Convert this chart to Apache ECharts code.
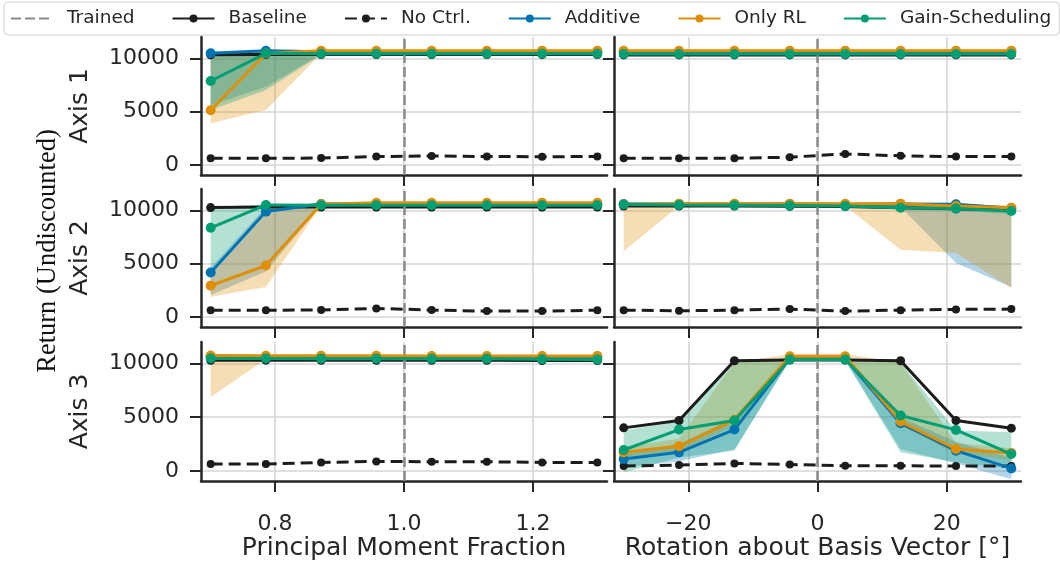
<!DOCTYPE html>
<html>
<head>
<meta charset="utf-8">
<script src="https://cdn.jsdelivr.net/npm/echarts@6/dist/echarts.min.js"></script>
<style>
html, body { margin: 0; padding: 0; background: #ffffff; }
#chart { width: 1060px; height: 567px; }
</style>
</head>
<body>
<div id="chart"></div>
<script>
// x positions of the evaluated variations
const xMoment = [0.7, 0.7857, 0.8714, 0.9571, 1.0429, 1.1286, 1.2143, 1.3];
const xRotation = [-30, -21.43, -12.86, -4.29, 4.29, 12.86, 21.43, 30];

// tick labels
const xTicksMoment = [0.8, 1.0, 1.2];
const xTicksRotation = [-20, 0, 20];
const yTicks = [0, 5000, 10000];
const rowLabels = ['Axis 1', 'Axis 2', 'Axis 3'];
const seriesNames = ['Trained', 'Baseline', 'No Ctrl.', 'Additive', 'Only RL', 'Gain-Scheduling'];

// ---- Axis 1, principal moment fraction ----
const mom1Baseline = [10330, 10350, 10350, 10350, 10350, 10350, 10350, 10350];
const mom1NoCtrl   = [630, 620, 640, 780, 840, 780, 770, 780];
const mom1Additive = [10470, 10710, 10620, 10620, 10620, 10620, 10620, 10620];
const mom1OnlyRL   = [5125, 10450, 10700, 10700, 10700, 10700, 10700, 10700];
const mom1Gain     = [7870, 10470, 10420, 10420, 10420, 10420, 10420, 10420];
const mom1AdditiveLo = [5600, 7340, 10400, 10500, 10500, 10500, 10500, 10500];
const mom1AdditiveHi = [10600, 10750, 10720, 10720, 10720, 10720, 10720, 10720];
const mom1OnlyRLLo   = [3900, 5150, 10450, 10600, 10600, 10600, 10600, 10600];
const mom1OnlyRLHi   = [10500, 10750, 10780, 10780, 10780, 10780, 10780, 10780];
const mom1GainLo     = [5150, 7030, 10320, 10350, 10350, 10350, 10350, 10350];
const mom1GainHi     = [10450, 10550, 10500, 10500, 10500, 10500, 10500, 10500];

// ---- Axis 2, principal moment fraction ----
const mom2Baseline = [10255, 10300, 10300, 10300, 10300, 10300, 10300, 10300];
const mom2NoCtrl   = [630, 630, 640, 795, 640, 540, 540, 630];
const mom2Additive = [4160, 9880, 10600, 10600, 10600, 10600, 10600, 10600];
const mom2OnlyRL   = [2930, 4820, 10570, 10700, 10700, 10700, 10700, 10700];
const mom2Gain     = [8360, 10500, 10470, 10470, 10470, 10470, 10470, 10470];
const mom2AdditiveLo = [2050, 4260, 10450, 10500, 10500, 10500, 10500, 10500];
const mom2AdditiveHi = [4600, 10300, 10700, 10700, 10700, 10700, 10700, 10700];
const mom2OnlyRLLo   = [1900, 2800, 10450, 10600, 10600, 10600, 10600, 10600];
const mom2OnlyRLHi   = [4300, 10100, 10750, 10780, 10780, 10780, 10780, 10780];
const mom2GainLo     = [4400, 10150, 10350, 10400, 10400, 10400, 10400, 10400];
const mom2GainHi     = [10300, 10550, 10550, 10550, 10550, 10550, 10550, 10550];

// ---- Axis 3, principal moment fraction ----
const mom3Baseline = [10300, 10310, 10300, 10300, 10300, 10300, 10280, 10280];
const mom3NoCtrl   = [625, 625, 780, 875, 845, 845, 780, 780];
const mom3Additive = [10650, 10650, 10650, 10650, 10650, 10650, 10650, 10650];
const mom3OnlyRL   = [10750, 10720, 10720, 10720, 10700, 10700, 10700, 10700];
const mom3Gain     = [10470, 10470, 10450, 10450, 10430, 10430, 10400, 10380];
const mom3AdditiveLo = [10500, 10500, 10500, 10500, 10500, 10500, 10500, 10500];
const mom3AdditiveHi = [10780, 10780, 10780, 10780, 10780, 10780, 10780, 10780];
const mom3OnlyRLLo   = [6870, 10400, 10550, 10550, 10550, 10550, 10550, 10550];
const mom3OnlyRLHi   = [10820, 10800, 10800, 10800, 10800, 10800, 10800, 10800];
const mom3GainLo     = [10350, 10350, 10330, 10330, 10320, 10320, 10300, 10280];
const mom3GainHi     = [10560, 10560, 10550, 10550, 10540, 10540, 10520, 10500];

// ---- Axis 1, rotation about basis vector ----
const rot1Baseline = [10320, 10320, 10320, 10320, 10320, 10320, 10320, 10320];
const rot1NoCtrl   = [630, 630, 630, 720, 1030, 845, 780, 780];
const rot1Additive = [10650, 10650, 10650, 10650, 10650, 10650, 10650, 10650];
const rot1OnlyRL   = [10710, 10710, 10710, 10710, 10710, 10710, 10710, 10710];
const rot1Gain     = [10400, 10400, 10400, 10400, 10400, 10400, 10400, 10400];
const rot1AdditiveLo = [10500, 10500, 10500, 10500, 10500, 10500, 10500, 10500];
const rot1AdditiveHi = [10780, 10780, 10780, 10780, 10780, 10780, 10780, 10780];
const rot1OnlyRLLo   = [10580, 10580, 10580, 10580, 10580, 10580, 10580, 10580];
const rot1OnlyRLHi   = [10820, 10820, 10820, 10820, 10820, 10820, 10820, 10820];
const rot1GainLo     = [10300, 10300, 10300, 10300, 10300, 10300, 10300, 10300];
const rot1GainHi     = [10500, 10500, 10500, 10500, 10500, 10500, 10500, 10500];

// ---- Axis 2, rotation about basis vector ----
const rot2Baseline = [10410, 10400, 10400, 10380, 10350, 10250, 10150, 10030];
const rot2NoCtrl   = [633, 570, 633, 730, 540, 633, 700, 730];
const rot2Additive = [10600, 10600, 10600, 10600, 10550, 10600, 10570, 10200];
const rot2OnlyRL   = [10570, 10620, 10620, 10620, 10620, 10620, 10410, 10250];
const rot2Gain     = [10550, 10500, 10480, 10460, 10410, 10250, 10160, 9930];
const rot2AdditiveLo = [10450, 10450, 10450, 10450, 10400, 10300, 5050, 2800];
const rot2AdditiveHi = [10700, 10700, 10700, 10700, 10700, 10700, 10650, 10350];
const rot2OnlyRLLo   = [6150, 10400, 10450, 10450, 10400, 6310, 6000, 2700];
const rot2OnlyRLHi   = [10700, 10700, 10700, 10700, 10700, 10700, 10600, 10450];
const rot2GainLo     = [10350, 10350, 10350, 10350, 10300, 10100, 9950, 9650];
const rot2GainHi     = [10650, 10600, 10600, 10600, 10550, 10400, 10350, 10200];

// ---- Axis 3, rotation about basis vector ----
const rot3Baseline = [4000, 4690, 10250, 10320, 10320, 10250, 4690, 3970];
const rot3NoCtrl   = [440, 530, 685, 590, 470, 470, 440, 440];
const rot3Additive = [1090, 1720, 3840, 10470, 10470, 4430, 1875, 220];
const rot3OnlyRL   = [1720, 2280, 4750, 10680, 10680, 4590, 2030, 1660];
const rot3Gain     = [1940, 3840, 4690, 10370, 10370, 5150, 3810, 1560];
const rot3AdditiveLo = [300, 900, 2000, 10300, 10300, 2000, 700, -780];
const rot3AdditiveHi = [1700, 2500, 5000, 10600, 10600, 5000, 2700, 1200];
const rot3OnlyRLLo   = [1300, 1700, 4200, 10500, 10500, 4200, 1600, 1000];
const rot3OnlyRLHi   = [2200, 3000, 10100, 10850, 10850, 10100, 2600, 2100];
const rot3GainLo     = [-150, 1250, 1870, 10250, 10250, 1720, 780, 200];
const rot3GainHi     = [3750, 4600, 10100, 10500, 10500, 10100, 3750, 3600];

const COLORS = {
  baseline: '#1c1c1c',
  noCtrl: '#1c1c1c',
  additive: '#0173b2',
  onlyRL: '#de8f05',
  gain: '#029e73',
  trained: '#8a8a8a',
  text: '#262626',
  grid: '#d6d6d6'
};
const BAND_FILL = {
  additive: 'rgba(1,115,178,0.3)',
  onlyRL: 'rgba(222,143,5,0.3)',
  gain: 'rgba(2,158,115,0.3)'
};

const panels = [
  { row: 0, col: 0, xs: xMoment, baseline: mom1Baseline, noCtrl: mom1NoCtrl, additive: mom1Additive, onlyRL: mom1OnlyRL, gain: mom1Gain,
    bands: { additive: [mom1AdditiveLo, mom1AdditiveHi], onlyRL: [mom1OnlyRLLo, mom1OnlyRLHi], gain: [mom1GainLo, mom1GainHi] } },
  { row: 1, col: 0, xs: xMoment, baseline: mom2Baseline, noCtrl: mom2NoCtrl, additive: mom2Additive, onlyRL: mom2OnlyRL, gain: mom2Gain,
    bands: { additive: [mom2AdditiveLo, mom2AdditiveHi], onlyRL: [mom2OnlyRLLo, mom2OnlyRLHi], gain: [mom2GainLo, mom2GainHi] } },
  { row: 2, col: 0, xs: xMoment, baseline: mom3Baseline, noCtrl: mom3NoCtrl, additive: mom3Additive, onlyRL: mom3OnlyRL, gain: mom3Gain,
    bands: { additive: [mom3AdditiveLo, mom3AdditiveHi], onlyRL: [mom3OnlyRLLo, mom3OnlyRLHi], gain: [mom3GainLo, mom3GainHi] } },
  { row: 0, col: 1, xs: xRotation, baseline: rot1Baseline, noCtrl: rot1NoCtrl, additive: rot1Additive, onlyRL: rot1OnlyRL, gain: rot1Gain,
    bands: { additive: [rot1AdditiveLo, rot1AdditiveHi], onlyRL: [rot1OnlyRLLo, rot1OnlyRLHi], gain: [rot1GainLo, rot1GainHi] } },
  { row: 1, col: 1, xs: xRotation, baseline: rot2Baseline, noCtrl: rot2NoCtrl, additive: rot2Additive, onlyRL: rot2OnlyRL, gain: rot2Gain,
    bands: { additive: [rot2AdditiveLo, rot2AdditiveHi], onlyRL: [rot2OnlyRLLo, rot2OnlyRLHi], gain: [rot2GainLo, rot2GainHi] } },
  { row: 2, col: 1, xs: xRotation, baseline: rot3Baseline, noCtrl: rot3NoCtrl, additive: rot3Additive, onlyRL: rot3OnlyRL, gain: rot3Gain,
    bands: { additive: [rot3AdditiveLo, rot3AdditiveHi], onlyRL: [rot3OnlyRLLo, rot3OnlyRLHi], gain: [rot3GainLo, rot3GainHi] } }
];

// layout of the 3 x 2 panel grid (pixels)
const COL_LEFT = [201, 614];
const COL_WIDTH = [406, 407];
const ROW_TOP = [37, 189, 342];
const ROW_HEIGHT = [138, 138, 139];
const X_RANGE = [[0.685, 1.315], [-31.5, 31.5]];
const TRAINED_X = [1.0, 0];
const Y_MIN = -950, Y_MAX = 12000;
const FONT = '"DejaVu Sans", sans-serif';

function fmtMoment(v) { return Number(v).toFixed(1); }
function fmtRotation(v) { return v < 0 ? '\u2212' + Math.abs(v) : String(v); }
function fmtReturn(v) { return String(Math.round(v)); }

const grids = [], xAxes = [], yAxes = [], series = [];

panels.forEach((p, i) => {
  grids.push({
    left: COL_LEFT[p.col], top: ROW_TOP[p.row],
    width: COL_WIDTH[p.col], height: ROW_HEIGHT[p.row],
    containLabel: false, outerBoundsMode: 'none'
  });
  const xt = p.col === 0 ? xTicksMoment : xTicksRotation;
  xAxes.push({
    type: 'value', gridIndex: i,
    min: X_RANGE[p.col][0], max: X_RANGE[p.col][1],
    axisLine: { show: true, onZero: false, lineStyle: { color: COLORS.text, width: 2.5 } },
    axisTick: { show: true, length: 11, customValues: xt, lineStyle: { color: COLORS.text, width: 2 } },
    axisLabel: {
      show: p.row === 2, customValues: xt, margin: 32,
      fontSize: 22, fontFamily: FONT, color: COLORS.text,
      formatter: p.col === 0 ? fmtMoment : fmtRotation
    },
    splitLine: { show: true, lineStyle: { color: COLORS.grid, width: 1.6 } }
  });
  yAxes.push({
    type: 'value', gridIndex: i, min: Y_MIN, max: Y_MAX,
    axisLine: { show: true, onZero: false, lineStyle: { color: COLORS.text, width: 2.5 } },
    axisTick: { show: true, length: 11, customValues: yTicks, lineStyle: { color: COLORS.text, width: 2 } },
    axisLabel: {
      show: p.col === 0, customValues: yTicks, margin: 22,
      fontSize: 22, fontFamily: FONT, color: COLORS.text, formatter: fmtReturn
    },
    splitLine: { show: true, lineStyle: { color: COLORS.grid, width: 1.6 } }
  });

  // shaded spread of each controller
  ['additive', 'onlyRL', 'gain'].forEach(key => {
    const lo = p.bands[key][0], hi = p.bands[key][1], xs = p.xs;
    series.push({
      type: 'custom', xAxisIndex: i, yAxisIndex: i, silent: true, z: 1, clip: true,
      data: xs.map((x, k) => [x, lo[k], hi[k]]),
      encode: { x: 0, y: [1, 2] },
      renderItem: (params, api) => {
        if (params.dataIndex !== 0) return null;
        const pts = [];
        for (let k = 0; k < xs.length; k++) pts.push(api.coord([xs[k], hi[k]]));
        for (let k = xs.length - 1; k >= 0; k--) pts.push(api.coord([xs[k], lo[k]]));
        return { type: 'polygon', shape: { points: pts }, style: { fill: BAND_FILL[key] } };
      }
    });
  });

  // nominal (trained) configuration
  series.push({
    type: 'line', name: 'Trained', xAxisIndex: i, yAxisIndex: i, data: [], symbol: 'none', z: 3,
    itemStyle: { color: COLORS.trained },
    lineStyle: { color: COLORS.trained, width: 2.5, type: [10, 4] },
    markLine: {
      silent: true, symbol: 'none', label: { show: false }, animation: false,
      lineStyle: { color: COLORS.trained, width: 2.5, type: [10, 4] },
      data: [{ xAxis: TRAINED_X[p.col] }]
    }
  });

  const lineDefs = [
    { name: 'Baseline', vals: p.baseline, color: COLORS.baseline, dash: 'solid', size: 9 },
    { name: 'No Ctrl.', vals: p.noCtrl, color: COLORS.noCtrl, dash: [12, 6], size: 8 },
    { name: 'Additive', vals: p.additive, color: COLORS.additive, dash: 'solid', size: 10 },
    { name: 'Only RL', vals: p.onlyRL, color: COLORS.onlyRL, dash: 'solid', size: 10 },
    { name: 'Gain-Scheduling', vals: p.gain, color: COLORS.gain, dash: 'solid', size: 10 }
  ];
  lineDefs.forEach((d, j) => {
    series.push({
      type: 'line', name: d.name, xAxisIndex: i, yAxisIndex: i, z: 4 + j,
      data: p.xs.map((x, k) => [x, d.vals[k]]),
      symbol: 'circle', symbolSize: d.size, showSymbol: true,
      itemStyle: { color: d.color, borderWidth: 0 },
      lineStyle: { color: d.color, width: 3, type: d.dash },
      emphasis: { disabled: true }
    });
  });
});

const graphics = [
  { type: 'text', x: 404, y: 548, style: { text: 'Principal Moment Fraction', font: '25px ' + FONT, fill: COLORS.text, align: 'center', verticalAlign: 'middle' } },
  { type: 'text', x: 817.5, y: 548, style: { text: 'Rotation about Basis Vector [°]', font: '25px ' + FONT, fill: COLORS.text, align: 'center', verticalAlign: 'middle' } },
  { type: 'text', x: 48, y: 251, rotation: Math.PI / 2, style: { text: 'Return (Undiscounted)', font: '26.5px "Liberation Serif", serif', fill: '#111111', align: 'center', verticalAlign: 'middle' } }
];
rowLabels.forEach((t, r) => {
  graphics.push({
    type: 'text', x: 80, y: ROW_TOP[r] + ROW_HEIGHT[r] / 2, rotation: Math.PI / 2,
    style: { text: t, font: '25px ' + FONT, fill: COLORS.text, align: 'center', verticalAlign: 'middle' }
  });
});

const legendData = seriesNames.map(n => n === 'Trained' ? { name: n, itemStyle: { opacity: 0 } } : n);

const chart = echarts.init(document.getElementById('chart'), null, { renderer: 'canvas' });
chart.setOption({
  animation: false,
  backgroundColor: '#ffffff',
  legend: {
    data: legendData, left: 4, top: 2, padding: [7, 8, 7, 6],
    itemGap: 37, itemWidth: 42, itemHeight: 10,
    backgroundColor: '#ffffff', borderColor: '#d0d0d0', borderWidth: 1, borderRadius: 4,
    textStyle: { fontSize: 18.5, fontFamily: FONT, color: COLORS.text, padding: [0, 0, 0, 9] },
    selectedMode: false
  },
  grid: grids,
  xAxis: xAxes,
  yAxis: yAxes,
  series: series,
  graphic: graphics
});
</script>
</body>
</html>
